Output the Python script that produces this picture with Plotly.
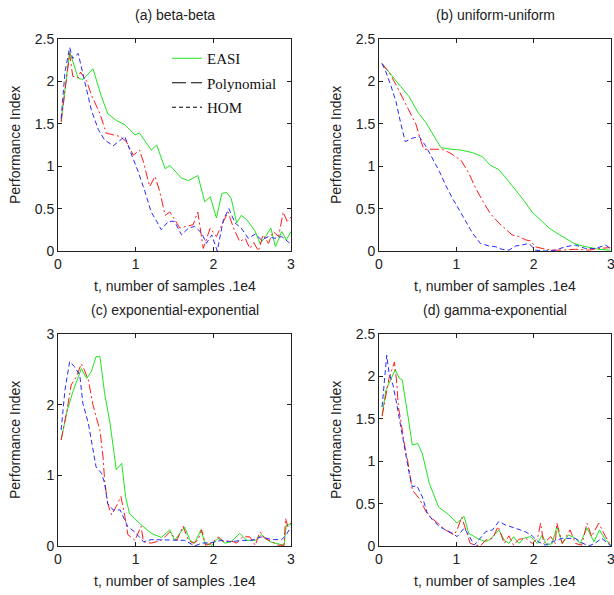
import plotly.graph_objects as go

# ---------------- data (t in units of 1e4 samples) ----------------
# (a) beta-beta
a_easi_t = [0.04,0.15,0.26,0.32,0.45,0.56,0.64,0.75,0.86,0.99,1.05,1.20,1.27,1.38,1.44,1.59,1.68,1.80,1.89,1.96,2.04,2.11,2.17,2.23,2.30,2.36,2.43,2.54,2.60,2.66,2.74,2.80,2.88,2.94,3.00]
a_easi_v = [1.53,2.35,2.04,2.02,2.15,1.82,1.62,1.54,1.49,1.37,1.39,1.19,1.25,0.97,1.01,0.86,0.83,0.89,0.58,0.64,0.39,0.68,0.69,0.62,0.33,0.42,0.37,0.23,0.09,0.15,0.27,0.05,0.23,0.13,0.23]
a_poly_t = [0.04,0.09,0.15,0.19,0.26,0.29,0.37,0.43,0.54,0.62,0.71,0.80,0.88,0.97,1.05,1.10,1.18,1.25,1.31,1.38,1.44,1.50,1.57,1.65,1.74,1.80,1.87,1.96,2.04,2.11,2.19,2.26,2.34,2.41,2.47,2.52,2.58,2.64,2.71,2.77,2.84,2.90,2.95,3.00]
a_poly_v = [1.52,1.88,2.33,2.06,2.04,2.11,2.00,1.84,1.62,1.39,1.37,1.35,1.29,1.13,1.19,1.05,0.76,0.88,0.70,0.42,0.46,0.37,0.27,0.29,0.31,0.46,0.03,0.27,0.17,0.31,0.46,0.27,0.11,0.15,0.03,0.10,0.00,0.19,0.09,0.23,0.17,0.46,0.35,0.40]
a_hom_t = [0.04,0.09,0.15,0.19,0.26,0.30,0.37,0.43,0.52,0.60,0.71,0.80,0.86,0.95,1.03,1.12,1.20,1.27,1.33,1.42,1.50,1.59,1.68,1.76,1.85,1.91,1.98,2.05,2.13,2.20,2.28,2.36,2.45,2.54,2.62,2.71,2.79,2.88,3.00]
a_hom_v = [1.56,2.11,2.40,2.27,2.33,2.17,1.88,1.66,1.43,1.31,1.24,1.31,1.35,1.13,0.94,0.70,0.46,0.35,0.25,0.35,0.35,0.19,0.27,0.29,0.21,0.09,0.19,0.00,0.37,0.50,0.33,0.27,0.15,0.20,0.13,0.17,0.15,0.17,0.08]

# (b) uniform-uniform
b_easi_t = [0.04,0.15,0.28,0.39,0.50,0.61,0.71,0.80,0.93,1.06,1.21,1.34,1.44,1.55,1.66,1.77,1.87,1.98,2.09,2.20,2.30,2.41,2.52,2.63,2.73,2.84,2.99]
b_easi_v = [2.21,2.08,1.94,1.82,1.64,1.51,1.35,1.22,1.20,1.19,1.16,1.11,1.01,0.96,0.84,0.72,0.60,0.46,0.37,0.27,0.21,0.15,0.09,0.06,0.04,0.02,0.01]
b_poly_t = [0.04,0.13,0.22,0.31,0.39,0.48,0.54,0.58,0.71,0.82,0.93,1.06,1.16,1.25,1.36,1.44,1.55,1.64,1.72,1.81,1.90,1.96,2.02,2.11,2.24,2.37,2.54,2.71,2.84,2.99]
b_poly_v = [2.21,2.11,1.96,1.80,1.66,1.49,1.30,1.20,1.20,1.20,1.15,1.07,0.92,0.74,0.56,0.44,0.33,0.25,0.19,0.17,0.13,0.12,0.05,0.03,0.01,0.01,0.02,0.01,0.03,0.04]
b_hom_t = [0.04,0.09,0.15,0.22,0.28,0.34,0.43,0.52,0.61,0.69,0.78,0.86,0.95,1.04,1.12,1.21,1.31,1.42,1.51,1.59,1.68,1.77,1.85,1.94,2.02,2.15,2.28,2.41,2.54,2.67,2.80,2.93,2.99]
b_hom_v = [2.21,2.11,1.96,1.76,1.51,1.29,1.33,1.35,1.23,1.09,0.94,0.78,0.62,0.48,0.35,0.21,0.09,0.06,0.05,0.02,0.01,0.06,0.07,0.09,0.01,0.00,0.01,0.05,0.07,0.03,0.03,0.07,0.03]

# (c) exponential-exponential
c_easi_t = [0.04,0.11,0.19,0.30,0.37,0.43,0.49,0.54,0.60,0.67,0.75,0.82,0.87,0.92,1.05,1.20,1.33,1.44,1.50,1.63,1.70,1.76,1.84,1.89,1.98,2.06,2.15,2.23,2.34,2.43,2.54,2.62,2.73,2.81,2.91,2.94,3.00]
c_easi_v = [1.50,1.88,2.18,2.51,2.37,2.47,2.68,2.68,2.16,1.74,1.08,1.17,0.70,0.46,0.32,0.18,0.12,0.23,0.08,0.27,0.08,0.04,0.23,0.04,0.01,0.11,0.04,0.06,0.18,0.08,0.08,0.16,0.06,0.04,0.01,0.30,0.30]
c_poly_t = [0.04,0.11,0.17,0.24,0.30,0.34,0.39,0.45,0.49,0.54,0.58,0.60,0.64,0.69,0.75,0.81,0.86,0.90,0.99,1.07,1.10,1.20,1.33,1.44,1.53,1.61,1.68,1.74,1.80,1.85,1.90,1.98,2.06,2.15,2.21,2.30,2.38,2.47,2.54,2.60,2.66,2.75,2.84,2.91,2.93,2.96,3.00]
c_poly_v = [1.50,1.88,2.28,2.40,2.58,2.49,2.35,2.00,1.83,1.64,1.26,0.93,0.60,0.44,0.56,0.70,0.42,0.16,0.08,0.28,0.06,0.04,0.08,0.20,0.08,0.28,0.08,0.04,0.08,0.23,0.01,0.04,0.13,0.05,0.08,0.04,0.13,0.13,0.01,0.20,0.11,0.06,0.01,0.01,0.39,0.27,0.33]
c_hom_t = [0.04,0.09,0.15,0.21,0.28,0.32,0.39,0.45,0.49,0.56,0.60,0.64,0.71,0.80,0.84,0.90,0.99,1.10,1.20,1.38,1.50,1.63,1.76,1.85,1.98,2.11,2.23,2.36,2.49,2.62,2.75,2.88,2.94,3.00]
c_hom_v = [1.64,2.21,2.61,2.54,2.42,2.02,1.74,1.36,1.12,1.03,0.89,0.60,0.51,0.51,0.42,0.27,0.20,0.06,0.09,0.09,0.08,0.08,0.00,0.04,0.05,0.08,0.06,0.08,0.08,0.13,0.09,0.09,0.16,0.27]

# (d) gamma-exponential
d_easi_t = [0.04,0.09,0.15,0.21,0.26,0.30,0.37,0.43,0.50,0.56,0.65,0.77,0.90,1.01,1.10,1.16,1.27,1.38,1.44,1.55,1.62,1.68,1.74,1.81,1.87,1.96,2.05,2.11,2.17,2.24,2.30,2.37,2.45,2.54,2.60,2.69,2.78,2.85,2.93,3.00]
d_easi_v = [1.54,1.84,1.96,2.08,1.98,1.96,1.56,1.19,1.21,1.09,0.74,0.46,0.37,0.27,0.35,0.15,0.09,0.05,0.08,0.19,0.07,0.03,0.11,0.03,0.09,0.11,0.03,0.13,0.01,0.03,0.23,0.03,0.13,0.09,0.03,0.21,0.05,0.19,0.07,0.01]
d_poly_t = [0.04,0.09,0.13,0.20,0.23,0.25,0.28,0.33,0.37,0.43,0.52,0.63,0.73,0.86,0.97,1.01,1.07,1.12,1.18,1.25,1.31,1.38,1.47,1.54,1.62,1.68,1.74,1.81,1.90,1.98,2.05,2.09,2.13,2.22,2.28,2.30,2.37,2.47,2.54,2.62,2.69,2.75,2.84,2.93,3.00]
d_poly_v = [1.53,1.78,1.98,2.17,1.92,1.64,1.49,1.19,1.01,0.66,0.56,0.37,0.29,0.19,0.13,0.19,0.34,0.19,0.03,0.01,0.00,0.07,0.09,0.23,0.03,0.12,0.01,0.08,0.09,0.03,0.09,0.27,0.03,0.11,0.03,0.27,0.03,0.19,0.03,0.01,0.27,0.11,0.27,0.11,0.00]
d_hom_t = [0.04,0.07,0.10,0.13,0.18,0.22,0.26,0.30,0.35,0.39,0.43,0.49,0.56,0.62,0.69,0.78,0.86,0.95,1.01,1.10,1.16,1.23,1.29,1.38,1.47,1.55,1.63,1.76,1.89,1.98,2.06,2.15,2.24,2.37,2.45,2.54,2.62,2.71,2.79,2.88,3.00]
d_hom_v = [1.64,1.96,2.25,2.04,1.90,1.72,1.51,1.29,1.05,0.86,0.70,0.71,0.58,0.40,0.31,0.23,0.19,0.15,0.11,0.21,0.13,0.01,0.07,0.17,0.19,0.29,0.25,0.21,0.17,0.12,0.05,0.01,0.05,0.09,0.09,0.09,0.04,0.00,0.03,0.09,0.00]

panel_titles = ["(a) beta-beta", "(b) uniform-uniform",
                "(c) exponential-exponential", "(d) gamma-exponential"]
series_names = ["EASI", "Polynomial", "HOM"]
x_title = "t, number of samples .1e4"
y_title = "Performance Index"
x_ticks = [0, 1, 2, 3]
y_ticks_25 = [0, 0.5, 1, 1.5, 2, 2.5]
y_ticks_3 = [0, 1, 2, 3]

panels = [
    (a_easi_t, a_easi_v, a_poly_t, a_poly_v, a_hom_t, a_hom_v),
    (b_easi_t, b_easi_v, b_poly_t, b_poly_v, b_hom_t, b_hom_v),
    (c_easi_t, c_easi_v, c_poly_t, c_poly_v, c_hom_t, c_hom_v),
    (d_easi_t, d_easi_v, d_poly_t, d_poly_v, d_hom_t, d_hom_v),
]
y_ranges = [[0, 2.5], [0, 2.5], [0, 3], [0, 2.5]]
y_tickvals = [y_ticks_25, y_ticks_25, y_ticks_3, y_ticks_25]

# ---------------- styles ----------------
W, H = 614, 595
GREEN = "#1ee61e"
RED = "#ff1a1a"
BLUE = "#2a2aff"
styles = [dict(color=GREEN, width=1, dash="solid"),
          dict(color=RED, width=1, dash="9px,3px,2px,3px"),
          dict(color=BLUE, width=1, dash="5px,3px")]

# plot area pixel boxes (left, right, top, bottom)
boxes = [(58, 291, 39, 251), (379, 611, 39, 251),
         (58, 291, 334, 546), (379, 611, 334, 546)]

fig = go.Figure()
layout = dict(
    width=W, height=H, margin=dict(l=0, r=0, t=0, b=0),
    paper_bgcolor="white", plot_bgcolor="white",
    font=dict(family="Liberation Sans, Arial, sans-serif", size=14, color="#222"),
    showlegend=True,
    annotations=[],
)

axis_font = dict(family="Liberation Sans, Arial, sans-serif", size=14, color="#222")
for i, (box, data) in enumerate(zip(boxes, panels)):
    l, r, t, b = box
    xa = "xaxis" if i == 0 else f"xaxis{i+1}"
    ya = "yaxis" if i == 0 else f"yaxis{i+1}"
    xr = "x" if i == 0 else f"x{i+1}"
    yr = "y" if i == 0 else f"y{i+1}"
    layout[xa] = dict(domain=[l / W, r / W], anchor=yr, range=[0, 3],
                      tickvals=x_ticks, ticktext=[str(v) for v in x_ticks],
                      ticks="inside", ticklen=4, tickcolor="#222",
                      showline=True, linecolor="#222", linewidth=1, mirror="ticks",
                      showgrid=False, zeroline=False, tickfont=axis_font,
                      ticklabeloverflow="allow", automargin=False)
    layout[ya] = dict(domain=[1 - b / H, 1 - t / H], anchor=xr, range=y_ranges[i],
                      tickvals=y_tickvals[i], ticktext=[f"{v:g}" for v in y_tickvals[i]],
                      ticks="inside", ticklen=4, tickcolor="#222",
                      showline=True, linecolor="#222", linewidth=1, mirror="ticks",
                      showgrid=False, zeroline=False, tickfont=axis_font,
                      ticklabeloverflow="allow", automargin=False)
    cx = (l + r) / 2 / W
    layout["annotations"].append(dict(text=panel_titles[i], x=cx, y=1 - (t - 24) / H,
                                      xref="paper", yref="paper", showarrow=False,
                                      xanchor="center", yanchor="middle",
                                      font=axis_font))
    layout["annotations"].append(dict(text=x_title, x=cx, y=1 - (b + 35) / H,
                                      xref="paper", yref="paper", showarrow=False,
                                      xanchor="center", yanchor="middle",
                                      font=axis_font))
    layout["annotations"].append(dict(text=y_title, x=(l - 43) / W, y=1 - (t + b) / 2 / H,
                                      xref="paper", yref="paper", showarrow=False,
                                      textangle=-90, xanchor="center", yanchor="middle",
                                      font=axis_font))
    ts = [data[0], data[2], data[4]]
    vs = [data[1], data[3], data[5]]
    for k in range(3):
        fig.add_trace(go.Scatter(x=ts[k], y=vs[k], mode="lines", line=styles[k],
                                 name=series_names[k], showlegend=False,
                                 xaxis=xr, yaxis=yr, hoverinfo="skip"))

# legend entries (black samples for Polynomial / HOM, as in the original)
legend_styles = [dict(color=GREEN, width=1, dash="solid"),
                 dict(color="#000", width=1, dash="14px,5px"),
                 dict(color="#000", width=1, dash="4px,3px")]
for k in range(3):
    fig.add_trace(go.Scatter(x=[None], y=[None], mode="lines", line=legend_styles[k],
                             name=series_names[k], legendgroup=series_names[k],
                             showlegend=True, xaxis="x", yaxis="y"))

layout["legend"] = dict(x=167 / W, y=1 - 42 / H, xanchor="left", yanchor="top",
                        bgcolor="rgba(0,0,0,0)", borderwidth=0,
                        tracegroupgap=2,
                        font=dict(family="Liberation Serif, Times New Roman, serif",
                                  size=15, color="#111"))
fig.update_layout(**layout)
fig.write_html("out.html", config={"displayModeBar": False},
               post_script="document.body.style.margin='0px';document.body.style.overflow='hidden';")
